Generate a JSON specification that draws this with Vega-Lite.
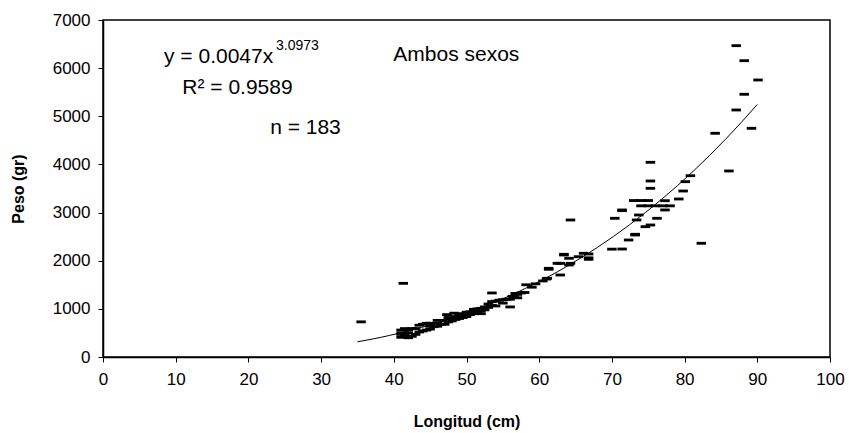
{
  "$schema": "https://vega.github.io/schema/vega-lite/v6.json",
  "width": 727,
  "height": 337,
  "autosize": {"type": "none"},
  "padding": {"left": 103, "top": 20, "right": 19, "bottom": 76},
  "background": "white",
  "config": {
    "font": "Liberation Sans",
    "view": {"stroke": "black", "strokeWidth": 1.5},
    "axis": {
      "grid": false,
      "domainColor": "black",
      "domainWidth": 1.5,
      "tickColor": "black",
      "tickSize": 5,
      "labelColor": "black",
      "labelFontSize": 17,
      "labelFlush": false,
      "labelOverlap": false,
      "titleColor": "black",
      "titleFontSize": 16,
      "titleFontWeight": "bold"
    }
  },
  "datasets": {
    "pts": [
      {"longitud": 35.5, "peso": 730},
      {"longitud": 41, "peso": 410}, {"longitud": 41, "peso": 470}, {"longitud": 41, "peso": 500}, {"longitud": 41, "peso": 560}, {"longitud": 41.3, "peso": 1530},
      {"longitud": 41.5, "peso": 450}, {"longitud": 41.5, "peso": 590}, {"longitud": 41.7, "peso": 420},
      {"longitud": 42, "peso": 400}, {"longitud": 42, "peso": 500}, {"longitud": 42, "peso": 560},
      {"longitud": 42.5, "peso": 430}, {"longitud": 42.5, "peso": 590},
      {"longitud": 43, "peso": 470}, {"longitud": 43, "peso": 590},
      {"longitud": 43.5, "peso": 520}, {"longitud": 43.5, "peso": 660},
      {"longitud": 44, "peso": 540}, {"longitud": 44, "peso": 680},
      {"longitud": 44.5, "peso": 560}, {"longitud": 44.5, "peso": 700},
      {"longitud": 45, "peso": 580}, {"longitud": 45, "peso": 640}, {"longitud": 45, "peso": 700},
      {"longitud": 45.5, "peso": 630},
      {"longitud": 46, "peso": 640}, {"longitud": 46, "peso": 700}, {"longitud": 46, "peso": 760},
      {"longitud": 46.5, "peso": 680},
      {"longitud": 47, "peso": 680}, {"longitud": 47, "peso": 760}, {"longitud": 47.3, "peso": 880},
      {"longitud": 47.5, "peso": 730}, {"longitud": 47.5, "peso": 820},
      {"longitud": 48, "peso": 750}, {"longitud": 48, "peso": 800}, {"longitud": 48.3, "peso": 910},
      {"longitud": 48.5, "peso": 780}, {"longitud": 48.5, "peso": 840},
      {"longitud": 49, "peso": 800}, {"longitud": 49, "peso": 850}, {"longitud": 49, "peso": 900},
      {"longitud": 49.5, "peso": 820}, {"longitud": 49.5, "peso": 880},
      {"longitud": 50, "peso": 840}, {"longitud": 50, "peso": 880}, {"longitud": 50, "peso": 930},
      {"longitud": 50.5, "peso": 880}, {"longitud": 50.5, "peso": 940},
      {"longitud": 51, "peso": 900}, {"longitud": 51, "peso": 950}, {"longitud": 51, "peso": 990},
      {"longitud": 51.5, "peso": 930}, {"longitud": 51.5, "peso": 1000},
      {"longitud": 52, "peso": 900}, {"longitud": 52, "peso": 960}, {"longitud": 52, "peso": 1010},
      {"longitud": 52.5, "peso": 980}, {"longitud": 52.5, "peso": 1040},
      {"longitud": 53, "peso": 1030}, {"longitud": 53, "peso": 1100}, {"longitud": 53.5, "peso": 1330},
      {"longitud": 53.5, "peso": 1070}, {"longitud": 53.5, "peso": 1150},
      {"longitud": 54, "peso": 1060}, {"longitud": 54, "peso": 1160}, {"longitud": 54.5, "peso": 1180},
      {"longitud": 55, "peso": 1120}, {"longitud": 55, "peso": 1190},
      {"longitud": 55.5, "peso": 1200},
      {"longitud": 56, "peso": 1040}, {"longitud": 56, "peso": 1200}, {"longitud": 56.3, "peso": 1260}, {"longitud": 56.7, "peso": 1320},
      {"longitud": 56.5, "peso": 1250},
      {"longitud": 57, "peso": 1230}, {"longitud": 57, "peso": 1300},
      {"longitud": 57.5, "peso": 1330},
      {"longitud": 58, "peso": 1340}, {"longitud": 58.2, "peso": 1500},
      {"longitud": 59, "peso": 1450}, {"longitud": 59.5, "peso": 1520},
      {"longitud": 60.5, "peso": 1580}, {"longitud": 61, "peso": 1620},
      {"longitud": 61.1, "peso": 1635},
      {"longitud": 61.3, "peso": 1822}, {"longitud": 61.3, "peso": 1842},
      {"longitud": 62.5, "peso": 1946},
      {"longitud": 62.9, "peso": 1703}, {"longitud": 62.9, "peso": 1946},
      {"longitud": 63.4, "peso": 2119}, {"longitud": 63.4, "peso": 2133},
      {"longitud": 64.1, "peso": 1911}, {"longitud": 64.1, "peso": 2050},
      {"longitud": 64.3, "peso": 1946}, {"longitud": 64.3, "peso": 2846},
      {"longitud": 65.4, "peso": 2083},
      {"longitud": 66.1, "peso": 2154},
      {"longitud": 66.8, "peso": 2029}, {"longitud": 66.8, "peso": 2140}, {"longitud": 66.8, "peso": 2060},
      {"longitud": 70, "peso": 2240}, {"longitud": 71.4, "peso": 2243},
      {"longitud": 70.4, "peso": 2881},
      {"longitud": 71.4, "peso": 3054}, {"longitud": 71.4, "peso": 3040},
      {"longitud": 72.3, "peso": 2430},
      {"longitud": 73.2, "peso": 2549}, {"longitud": 73.2, "peso": 2534},
      {"longitud": 73.4, "peso": 2846},
      {"longitud": 73.7, "peso": 2950},
      {"longitud": 73, "peso": 3250}, {"longitud": 74, "peso": 3250}, {"longitud": 75, "peso": 3250},
      {"longitud": 74, "peso": 3140}, {"longitud": 75, "peso": 3140}, {"longitud": 76, "peso": 3140}, {"longitud": 77, "peso": 3140}, {"longitud": 78, "peso": 3140},
      {"longitud": 74.6, "peso": 2707},
      {"longitud": 75.3, "peso": 2742}, {"longitud": 75.3, "peso": 3504}, {"longitud": 75.3, "peso": 3656}, {"longitud": 75.3, "peso": 4044},
      {"longitud": 76.2, "peso": 2881},
      {"longitud": 77.3, "peso": 3247}, {"longitud": 77.3, "peso": 3054},
      {"longitud": 79.2, "peso": 3282},
      {"longitud": 79.8, "peso": 3448},
      {"longitud": 80.1, "peso": 3642},
      {"longitud": 80.8, "peso": 3766},
      {"longitud": 82.3, "peso": 2362},
      {"longitud": 84.2, "peso": 4647},
      {"longitud": 86.1, "peso": 3864},
      {"longitud": 87.1, "peso": 6467}, {"longitud": 87.1, "peso": 5131},
      {"longitud": 88.2, "peso": 6155}, {"longitud": 88.2, "peso": 5457},
      {"longitud": 89.2, "peso": 4750},
      {"longitud": 90.1, "peso": 5754}
    ],
    "ann": [
      {"x": 15.9, "y": 6231, "label": "y = 0.0047x"},
      {"x": 18.5, "y": 5588, "label": "R² = 0.9589"},
      {"x": 27.85, "y": 4757, "label": "n = 183"},
      {"x": 48.6, "y": 6273, "label": "Ambos sexos"}
    ],
    "sup": [
      {"x": 23.8, "y": 6470, "label": "3.0973"}
    ]
  },
  "layer": [
    {
      "data": {"name": "pts"},
      "mark": {"type": "point", "shape": "M-1,-0.3H1V0.3H-1Z", "filled": true, "color": "black", "opacity": 1, "size": 90},
      "encoding": {
        "x": {"field": "longitud", "type": "quantitative", "scale": {"domain": [0, 100], "nice": false},
              "axis": {"values": [0, 10, 20, 30, 40, 50, 60, 70, 80, 90, 100], "title": "Longitud (cm)", "labelPadding": 9, "titlePadding": 26}},
        "y": {"field": "peso", "type": "quantitative", "scale": {"domain": [0, 7000], "nice": false},
              "axis": {"values": [0, 1000, 2000, 3000, 4000, 5000, 6000, 7000], "format": "d", "title": "Peso (gr)", "labelPadding": 8, "titlePadding": 26}}
      }
    },
    {
      "data": {"name": "pts"},
      "transform": [{"regression": "peso", "on": "longitud", "method": "pow", "extent": [35, 90]}],
      "mark": {"type": "line", "color": "black", "strokeWidth": 1},
      "encoding": {
        "x": {"field": "longitud", "type": "quantitative"},
        "y": {"field": "peso", "type": "quantitative"}
      }
    },
    {
      "data": {"name": "ann"},
      "mark": {"type": "text", "fontSize": 21, "align": "center", "baseline": "middle", "color": "black"},
      "encoding": {
        "x": {"field": "x", "type": "quantitative"},
        "y": {"field": "y", "type": "quantitative"},
        "text": {"field": "label"}
      }
    },
    {
      "data": {"name": "sup"},
      "mark": {"type": "text", "fontSize": 14, "align": "left", "baseline": "middle", "color": "black"},
      "encoding": {
        "x": {"field": "x", "type": "quantitative"},
        "y": {"field": "y", "type": "quantitative"},
        "text": {"field": "label"}
      }
    }
  ]
}
